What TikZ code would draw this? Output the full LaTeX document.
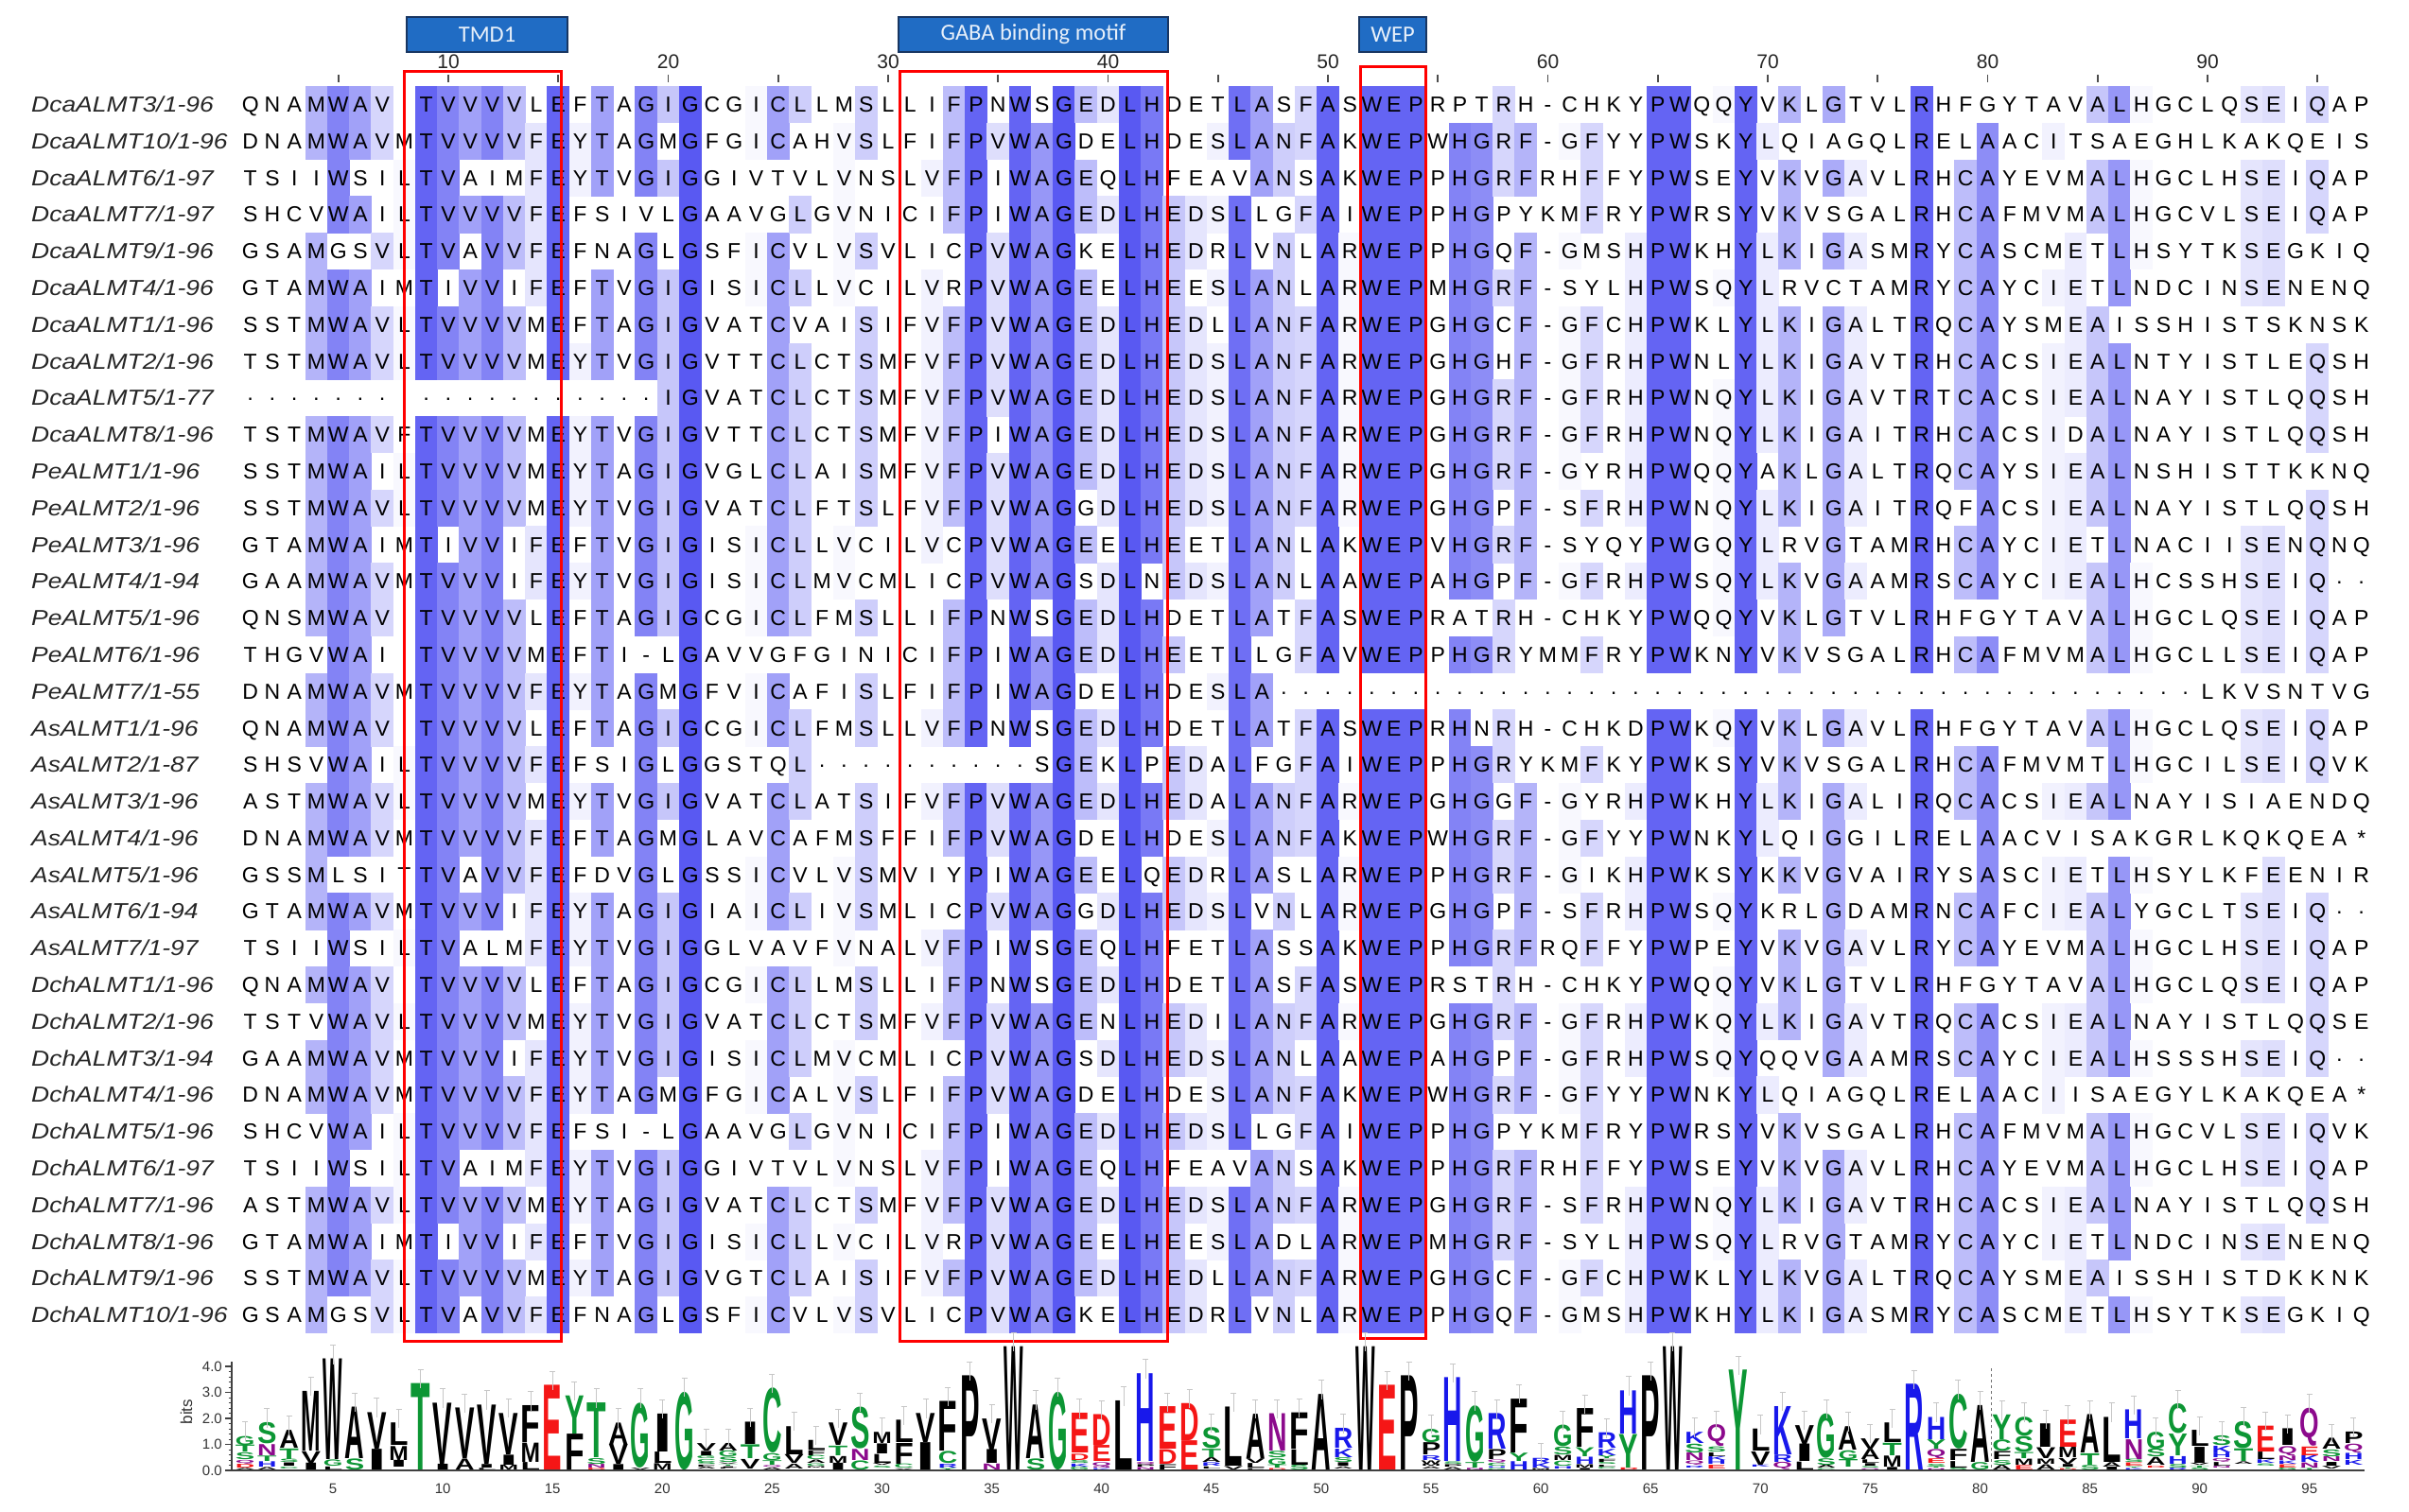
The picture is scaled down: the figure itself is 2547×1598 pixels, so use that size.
\documentclass[tikz,border=0pt]{standalone}
\usepackage{fontspec}
\setmainfont{Liberation Sans}
\newfontfamily\hdrfont{Carlito}
\usepackage{graphicx}

\definecolor{hdrfill}{RGB}{32,108,196}
\definecolor{hdrborder}{RGB}{24,54,98}
\definecolor{hdrtext}{RGB}{232,240,250}
\definecolor{lggreen}{RGB}{12,150,52}
\definecolor{lgblue}{RGB}{24,24,235}
\definecolor{lgred}{RGB}{245,22,22}
\definecolor{lgpurple}{RGB}{140,10,140}

\tikzset{
  alnchr/.style={inner sep=0pt, anchor=base, font=\fontsize{23}{24}\selectfont},
  alnnm/.style={inner sep=0pt, anchor=base west, font=\fontsize{23}{24}\selectfont\itshape, text=black!85},
  rulernum/.style={inner sep=0pt, anchor=base, font=\fontsize{21}{22}\selectfont, text=black!85},
  rulertick/.style={line width=1.6pt, draw=black!70},
  redbox/.style={draw=red, line width=3pt},
  hdrbox/.style={draw=hdrborder, line width=2pt, fill=hdrfill},
  hdrtxt/.style={text=hdrtext, font=\fontsize{24.5}{25}\hdrfont, inner sep=0pt},
  errbar/.style={draw=black!22, line width=0.8pt},
  logoaxis/.style={draw=black!75, line width=1.2pt},
  logonum/.style={inner sep=0pt, font=\fontsize{15}{16}\selectfont, text=black!80},
}

\newcommand\alndot{·}
\newcommand\alnchar[3]{\node[alnchr] at ({264.75+23.25*(#1-1)},{118.6+38.79*(#2-1)}) {#3};}
\newcommand\alnrect[3]{\fill[alnc#1] ({252.8+23.25*(#1-1)},{91+38.79*(#2-1)}) rectangle ({276.7+23.25*(#1-1)},{91.4+38.79*#3});}
\newcommand\alnname[2]{\node[alnnm] at (33,{118.6+38.79*(#1-1)}) {\scalebox{1.15}[1]{#2}};}
\newcommand\alnlogo[4]{\node[inner sep=0pt,anchor=south,text=lg#4] at ({352+23.22*(#1-5)},{#2-0.2}) {\resizebox*{20.5pt}{#3pt}{\bfseries #4}};}
\newcommand\alnerr[2]{\draw[errbar] ({349+23.22*(#1-5)},{#2-15}) -- ++(6,0) ++(-3,0) -- ++(0,20);}

\ExplSyntaxOn
\seq_new:N \g_aln_seq_seq
\seq_new:N \g_aln_name_seq
\intarray_new:Nn \g_aln_cnt_intarray {2522}
\intarray_new:Nn \g_aln_max_intarray {97}
\intarray_new:Nn \g_aln_ng_intarray {97}
\intarray_new:Nn \g_aln_shade_intarray {97}
\intarray_new:Nn \g_aln_flag_intarray {3500}
\int_new:N \l_aln_c_int
\int_new:N \l_aln_r_int
\int_new:N \l_aln_m_int
\int_new:N \l_aln_k_int
\int_new:N \l_aln_n_int
\int_new:N \l_aln_start_int
\fp_new:N \l_aln_t_fp
\fp_new:N \l_aln_kl_fp
\fp_new:N \l_aln_tot_fp
\fp_new:N \l_aln_y_fp
\fp_new:N \l_aln_h_fp
\seq_new:N \l_aln_items_seq
\clist_const:Nn \c_aln_bg_clist {0.074,0.05,0.025,0.054,0.054,0.047,0.074,0.026,0.068,0.05,0.058,0.099,0.025,0.045,0.05,0.039,0.034,0.052,0.057,0.051,0.05,0.073,0.013,0.05,0.032,0.05}
\clist_map_inline:nn {A,V,L,I,P,W,F,M,B,J,O,U,X,Z} { \colorlet{lg#1}{black} }
\clist_map_inline:nn {G,S,T,Y,C} { \colorlet{lg#1}{lggreen} }
\clist_map_inline:nn {N,Q} { \colorlet{lg#1}{lgpurple} }
\clist_map_inline:nn {K,R,H} { \colorlet{lg#1}{lgblue} }
\clist_map_inline:nn {D,E} { \colorlet{lg#1}{lgred} }

\NewDocumentCommand \AlnSeq { m m }
  {
    \seq_gput_right:Nn \g_aln_name_seq {#1}
    \seq_gput_right:Nx \g_aln_seq_seq { \tl_to_str:n {#2} }
  }

\cs_new_protected:Npn \aln_count:
  {
    \seq_map_inline:Nn \g_aln_seq_seq
      {
        \int_zero:N \l_aln_c_int
        \str_map_inline:nn {##1}
          {
            \int_incr:N \l_aln_c_int
            \int_compare:nT { 65 <= `####1 <= 90 }
              {
                \int_set:Nn \l_aln_k_int { 26 * ( \l_aln_c_int - 1 ) + `####1 - 64 }
                \intarray_gset:Nnn \g_aln_cnt_intarray { \l_aln_k_int }
                  { \intarray_item:Nn \g_aln_cnt_intarray { \l_aln_k_int } + 1 }
                \intarray_gset:Nnn \g_aln_ng_intarray { \l_aln_c_int }
                  { \intarray_item:Nn \g_aln_ng_intarray { \l_aln_c_int } + 1 }
              }
          }
      }
    \int_step_inline:nn { 97 }
      {
        \int_zero:N \l_aln_m_int
        \int_step_inline:nn { 26 }
          {
            \int_set:Nn \l_aln_k_int { \intarray_item:Nn \g_aln_cnt_intarray { 26 * (##1 - 1) + ####1 } }
            \int_compare:nNnT { \l_aln_k_int } > { \l_aln_m_int }
              { \int_set_eq:NN \l_aln_m_int \l_aln_k_int }
          }
        \intarray_gset:Nnn \g_aln_max_intarray {##1} { \l_aln_m_int }
      }
  }

\cs_new_protected:Npn \aln_colors:
  {
    \int_step_inline:nn {97}
      {
        \fp_set:Nn \l_aln_t_fp
          { max(0, (\intarray_item:Nn \g_aln_max_intarray {##1} / 34 - 0.42) / 0.58) }
        \fp_set:Nn \l_aln_t_fp { min(1, \l_aln_t_fp ^ 1.3) }
        \fp_compare:nNnT { \l_aln_t_fp } > { 0.03 }
          { \intarray_gset:Nnn \g_aln_shade_intarray {##1} {1} }
        \use:e
          {
            \exp_not:N \definecolor {alnc##1} {RGB}
              {
                \fp_eval:n { round(255 - 166 * \l_aln_t_fp) } ,
                \fp_eval:n { round(255 - 166 * \l_aln_t_fp) } ,
                \fp_eval:n { round(255 - 13 * \l_aln_t_fp) }
              }
          }
      }
  }

\cs_new_protected:Npn \aln_draw:
  {
    \int_zero:N \l_aln_r_int
    \seq_map_inline:Nn \g_aln_seq_seq
      {
        \int_incr:N \l_aln_r_int
        \int_zero:N \l_aln_c_int
        \str_map_inline:nn {##1}
          {
            \int_incr:N \l_aln_c_int
            \int_compare:nT { 65 <= `####1 <= 90 }
              {
                \int_compare:nNnT
                  { \intarray_item:Nn \g_aln_cnt_intarray { 26 * (\l_aln_c_int - 1) + `####1 - 64 } }
                  = { \intarray_item:Nn \g_aln_max_intarray { \l_aln_c_int } }
                  {
                    \intarray_gset:Nnn \g_aln_flag_intarray { 97 * (\l_aln_r_int - 1) + \l_aln_c_int } {1}
                  }
              }
          }
      }
    \int_step_inline:nn {97}
      {
        \int_compare:nNnT { \intarray_item:Nn \g_aln_shade_intarray {##1} } > {0}
          {
            \int_zero:N \l_aln_start_int
            \int_step_inline:nn {35}
              {
                \bool_if:nTF
                  {
                    \int_compare_p:nNn {####1} < {35}
                    &&
                    \int_compare_p:nNn { \intarray_item:Nn \g_aln_flag_intarray { 97 * (####1 - 1) + ##1 } } = {1}
                  }
                  {
                    \int_compare:nNnT {\l_aln_start_int} = {0}
                      { \int_set:Nn \l_aln_start_int {####1} }
                  }
                  {
                    \int_compare:nNnT {\l_aln_start_int} > {0}
                      {
                        \use:e { \exp_not:N \alnrect {##1} { \int_use:N \l_aln_start_int } { \int_eval:n {####1 - 1} } }
                        \int_zero:N \l_aln_start_int
                      }
                  }
              }
          }
      }
    \int_zero:N \l_aln_r_int
    \seq_map_inline:Nn \g_aln_seq_seq
      {
        \int_incr:N \l_aln_r_int
        \use:e { \exp_not:N \alnname { \int_use:N \l_aln_r_int } { \seq_item:Nn \g_aln_name_seq { \l_aln_r_int } } }
        \int_zero:N \l_aln_c_int
        \str_map_inline:nn {##1}
          {
            \int_incr:N \l_aln_c_int
            \str_if_eq:nnTF {####1} {.}
              { \use:e { \exp_not:N \alnchar { \int_use:N \l_aln_c_int } { \int_use:N \l_aln_r_int } { \exp_not:N \alndot } } }
              { \use:e { \exp_not:N \alnchar { \int_use:N \l_aln_c_int } { \int_use:N \l_aln_r_int } { \exp_not:n {####1} } } }
          }
      }
  }

\cs_new_protected:Npn \aln_logo:
  {
    \int_step_inline:nn { 97 }
      {
        \int_set:Nn \l_aln_n_int { \intarray_item:Nn \g_aln_ng_intarray {##1} }
        \fp_zero:N \l_aln_kl_fp
        \seq_clear:N \l_aln_items_seq
        \int_step_inline:nn { 26 }
          {
            \int_set:Nn \l_aln_k_int { \intarray_item:Nn \g_aln_cnt_intarray { 26 * (##1 - 1) + ####1 } }
            \int_compare:nNnT { \l_aln_k_int } > { 0 }
              {
                \fp_add:Nn \l_aln_kl_fp
                  { (\l_aln_k_int / \l_aln_n_int) * ln( (\l_aln_k_int / \l_aln_n_int) / \clist_item:Nn \c_aln_bg_clist {####1} ) }
                \seq_put_right:Nx \l_aln_items_seq { { \int_use:N \l_aln_k_int } { ####1 } }
              }
          }
        \int_compare:nNnT { \l_aln_n_int } > { 0 }
          {
            \fp_set:Nn \l_aln_tot_fp { min( 4.75, max(0, 0.8 * \l_aln_kl_fp / ln(2) * \l_aln_n_int / 34 ) ) * 27.5 }
            \seq_sort:Nn \l_aln_items_seq
              {
                \int_compare:nNnTF { \use_i:nn ####1 } > { \use_i:nn ####2 }
                  { \sort_return_swapped: } { \sort_return_same: }
              }
            \fp_set:Nn \l_aln_y_fp { 1555 }
            \seq_map_inline:Nn \l_aln_items_seq
              {
                \fp_set:Nn \l_aln_h_fp { \use_i:nn ####1 / \l_aln_n_int * \l_aln_tot_fp }
                \fp_compare:nNnT { \l_aln_h_fp } > { 1.6 }
                  {
                    \use:e
                      {
                        \exp_not:N \alnlogo {##1}
                          { \fp_eval:n { round(\l_aln_y_fp, 2) } }
                          { \fp_eval:n { round(\l_aln_h_fp - 0.4, 2) } }
                          { \int_to_Alph:n { \use_ii:nn ####1 } }
                      }
                  }
                \fp_sub:Nn \l_aln_y_fp { \l_aln_h_fp }
              }
            \fp_compare:nNnT { \l_aln_tot_fp } > { 4 }
              { \use:e { \exp_not:N \alnerr {##1} { \fp_eval:n { round(\l_aln_y_fp, 2) } } } }
          }
      }
  }

\NewDocumentCommand \AlnCompute {} { \aln_count: \aln_colors: }
\NewDocumentCommand \AlnDraw {} { \aln_draw: }
\NewDocumentCommand \AlnLogo {} { \aln_logo: }
\ExplSyntaxOff

\AlnSeq{DcaALMT3/1-96}{QNAMWAVITVVVVLEFTAGIGCGICLLMSLLIFPNWSGEDLHDETLASFASWEPRPTRH-CHKYPWQQYVKLGTVLRHFGYTAVALHGCLQSEIQAP}
\AlnSeq{DcaALMT10/1-96}{DNAMWAVMTVVVVFEYTAGMGFGICAHVSLFIFPVWAGDELHDESLANFAKWEPWHGRF-GFYYPWSKYLQIAGQLRELAACITSAEGHLKAKQEIS}
\AlnSeq{DcaALMT6/1-97}{TSIIWSILTVAIMFEYTVGIGGIVTVLVNSLVFPIWAGEQLHFEAVANSAKWEPPHGRFRHFFYPWSEYVKVGAVLRHCAYEVMALHGCLHSEIQAP}
\AlnSeq{DcaALMT7/1-97}{SHCVWAILTVVVVFEFSIVLGAAVGLGVNICIFPIWAGEDLHEDSLLGFAIWEPPHGPYKMFRYPWRSYVKVSGALRHCAFMVMALHGCVLSEIQAP}
\AlnSeq{DcaALMT9/1-96}{GSAMGSVLTVAVVFEFNAGLGSFICVLVSVLICPVWAGKELHEDRLVNLARWEPPHGQF-GMSHPWKHYLKIGASMRYCASCMETLHSYTKSEGKIQ}
\AlnSeq{DcaALMT4/1-96}{GTAMWAIMTIVVIFEFTVGIGISICLLVCILVRPVWAGEELHEESLANLARWEPMHGRF-SYLHPWSQYLRVCTAMRYCAYCIETLNDCINSENENQ}
\AlnSeq{DcaALMT1/1-96}{SSTMWAVLTVVVVMEFTAGIGVATCVAISIFVFPVWAGEDLHEDLLANFARWEPGHGCF-GFCHPWKLYLKIGALTRQCAYSMEAISSHISTSKNSK}
\AlnSeq{DcaALMT2/1-96}{TSTMWAVLTVVVVMEYTVGIGVTTCLCTSMFVFPVWAGEDLHEDSLANFARWEPGHGHF-GFRHPWNLYLKIGAVTRHCACSIEALNTYISTLEQSH}
\AlnSeq{DcaALMT5/1-77}{...................IGVATCLCTSMFVFPVWAGEDLHEDSLANFARWEPGHGRF-GFRHPWNQYLKIGAVTRTCACSIEALNAYISTLQQSH}
\AlnSeq{DcaALMT8/1-96}{TSTMWAVFTVVVVMEYTVGIGVTTCLCTSMFVFPIWAGEDLHEDSLANFARWEPGHGRF-GFRHPWNQYLKIGAITRHCACSIDALNAYISTLQQSH}
\AlnSeq{PeALMT1/1-96}{SSTMWAILTVVVVMEYTAGIGVGLCLAISMFVFPVWAGEDLHEDSLANFARWEPGHGRF-GYRHPWQQYAKLGALTRQCAYSIEALNSHISTTKKNQ}
\AlnSeq{PeALMT2/1-96}{SSTMWAVLTVVVVMEYTVGIGVATCLFTSLFVFPVWAGGDLHEDSLANFARWEPGHGPF-SFRHPWNQYLKIGAITRQFACSIEALNAYISTLQQSH}
\AlnSeq{PeALMT3/1-96}{GTAMWAIMTIVVIFEFTVGIGISICLLVCILVCPVWAGEELHEETLANLAKWEPVHGRF-SYQYPWGQYLRVGTAMRHCAYCIETLNACIISENQNQ}
\AlnSeq{PeALMT4/1-94}{GAAMWAVMTVVVIFEYTVGIGISICLMVCMLICPVWAGSDLNEDSLANLAAWEPAHGPF-GFRHPWSQYLKVGAAMRSCAYCIEALHCSSHSEIQ..}
\AlnSeq{PeALMT5/1-96}{QNSMWAVITVVVVLEFTAGIGCGICLFMSLLIFPNWSGEDLHDETLATFASWEPRATRH-CHKYPWQQYVKLGTVLRHFGYTAVALHGCLQSEIQAP}
\AlnSeq{PeALMT6/1-96}{THGVWAIITVVVVMEFTI-LGAVVGFGINICIFPIWAGEDLHEETLLGFAVWEPPHGRYMMFRYPWKNYVKVSGALRHCAFMVMALHGCLLSEIQAP}
\AlnSeq{PeALMT7/1-55}{DNAMWAVMTVVVVFEYTAGMGFVICAFISLFIFPIWAGDELHDESLA..........................................LKVSNTVG}
\AlnSeq{AsALMT1/1-96}{QNAMWAVITVVVVLEFTAGIGCGICLFMSLLVFPNWSGEDLHDETLATFASWEPRHNRH-CHKDPWKQYVKLGAVLRHFGYTAVALHGCLQSEIQAP}
\AlnSeq{AsALMT2/1-87}{SHSVWAILTVVVVFEFSIGLGGSTQL..........SGEKLPEDALFGFAIWEPPHGRYKMFKYPWKSYVKVSGALRHCAFMVMTLHGCILSEIQVK}
\AlnSeq{AsALMT3/1-96}{ASTMWAVLTVVVVMEYTVGIGVATCLATSIFVFPVWAGEDLHEDALANFARWEPGHGGF-GYRHPWKHYLKIGALIRQCACSIEALNAYISIAENDQ}
\AlnSeq{AsALMT4/1-96}{DNAMWAVMTVVVVFEFTAGMGLAVCAFMSFFIFPVWAGDELHDESLANFAKWEPWHGRF-GFYYPWNKYLQIGGILRELAACVISAKGRLKQKQEA*}
\AlnSeq{AsALMT5/1-96}{GSSMLSITTVAVVFEFDVGLGSSICVLVSMVIYPIWAGEELQEDRLASLARWEPPHGRF-GIKHPWKSYKKVGVAIRYSASCIETLHSYLKFEENIR}
\AlnSeq{AsALMT6/1-94}{GTAMWAVMTVVVIFEYTAGIGIAICLIVSMLICPVWAGGDLHEDSLVNLARWEPGHGPF-SFRHPWSQYKRLGDAMRNCAFCIEALYGCLTSEIQ..}
\AlnSeq{AsALMT7/1-97}{TSIIWSILTVALMFEYTVGIGGLVAVFVNALVFPIWSGEQLHFETLASSAKWEPPHGRFRQFFYPWPEYVKVGAVLRYCAYEVMALHGCLHSEIQAP}
\AlnSeq{DchALMT1/1-96}{QNAMWAVITVVVVLEFTAGIGCGICLLMSLLIFPNWSGEDLHDETLASFASWEPRSTRH-CHKYPWQQYVKLGTVLRHFGYTAVALHGCLQSEIQAP}
\AlnSeq{DchALMT2/1-96}{TSTVWAVLTVVVVMEYTVGIGVATCLCTSMFVFPVWAGENLHEDILANFARWEPGHGRF-GFRHPWKQYLKIGAVTRQCACSIEALNAYISTLQQSE}
\AlnSeq{DchALMT3/1-94}{GAAMWAVMTVVVIFEYTVGIGISICLMVCMLICPVWAGSDLHEDSLANLAAWEPAHGPF-GFRHPWSQYQQVGAAMRSCAYCIEALHSSSHSEIQ..}
\AlnSeq{DchALMT4/1-96}{DNAMWAVMTVVVVFEYTAGMGFGICALVSLFIFPVWAGDELHDESLANFAKWEPWHGRF-GFYYPWNKYLQIAGQLRELAACIISAEGYLKAKQEA*}
\AlnSeq{DchALMT5/1-96}{SHCVWAILTVVVVFEFSI-LGAAVGLGVNICIFPIWAGEDLHEDSLLGFAIWEPPHGPYKMFRYPWRSYVKVSGALRHCAFMVMALHGCVLSEIQVK}
\AlnSeq{DchALMT6/1-97}{TSIIWSILTVAIMFEYTVGIGGIVTVLVNSLVFPIWAGEQLHFEAVANSAKWEPPHGRFRHFFYPWSEYVKVGAVLRHCAYEVMALHGCLHSEIQAP}
\AlnSeq{DchALMT7/1-96}{ASTMWAVLTVVVVMEYTAGIGVATCLCTSMFVFPVWAGEDLHEDSLANFARWEPGHGRF-SFRHPWNQYLKIGAVTRHCACSIEALNAYISTLQQSH}
\AlnSeq{DchALMT8/1-96}{GTAMWAIMTIVVIFEFTVGIGISICLLVCILVRPVWAGEELHEESLADLARWEPMHGRF-SYLHPWSQYLRVGTAMRYCAYCIETLNDCINSENENQ}
\AlnSeq{DchALMT9/1-96}{SSTMWAVLTVVVVMEYTAGIGVGTCLAISIFVFPVWAGEDLHEDLLANFARWEPGHGCF-GFCHPWKLYLKVGALTRQCAYSMEAISSHISTDKKNK}
\AlnSeq{DchALMT10/1-96}{GSAMGSVLTVAVVFEFNAGLGSFICVLVSVLICPVWAGKELHEDRLVNLARWEPPHGQF-GMSHPWKHYLKIGASMRYCASCMETLHSYTKSEGKIQ}
\AlnCompute

\begin{document}
\begin{tikzpicture}[x=1pt,y=-1pt]
\path[use as bounding box, fill=white] (0,0) rectangle (2547,1598);
% feature header boxes
\node[hdrbox, hdrtxt, minimum width=170pt, minimum height=37pt] (tmdhdr) at (515,36.5) {TMD1};
\node[hdrbox, hdrtxt, minimum width=285pt, minimum height=37pt] (gabahdr) at (1092.5,36.5) {GABA binding motif};
\node[hdrbox, hdrtxt, minimum width=71pt, minimum height=37pt] (wephdr) at (1472.5,36.5) {WEP};
% ruler
\foreach \c in {5,10,...,95} \draw[rulertick] ({264.75+23.25*(\c-1)},79) -- ++(0,8);
\foreach \c in {10,20,...,90} \node[rulernum] (r\c) at ({264.75+23.25*(\c-1)},72) {\c};
% alignment
\AlnDraw
% motif boxes
\draw[redbox] (427,75) rectangle (593.5,1418);
\draw[redbox] (951,75) rectangle (1234,1418);
\draw[redbox] (1438,70) rectangle (1507,1415);
% sequence logo
\AlnLogo
\draw[logoaxis] (245,1440) -- (245,1555) -- (2500,1555);
\foreach \b in {0,1,2,3,4} {
  \draw[logoaxis] (238,{1555-27.5*\b}) -- (245,{1555-27.5*\b});
  \node[logonum, anchor=east] (yl\b) at (235,{1555-27.5*\b}) {\b.0};
}
\foreach \m in {1,...,19} \draw[logoaxis, line width=0.8pt] (241.5,{1555-27.5*\m/5}) -- (245,{1555-27.5*\m/5});
\node[logonum, rotate=90, font=\fontsize{17}{18}\selectfont] (bits) at (197,1493) {bits};
\foreach \c in {5,10,...,95} \node[logonum, anchor=base] (xl\c) at ({352+23.22*(\c-5)},1579) {\c};
\draw[dashed, black!55, line width=1pt] (2105,1447) -- (2105,1555);
\end{tikzpicture}
\end{document}
